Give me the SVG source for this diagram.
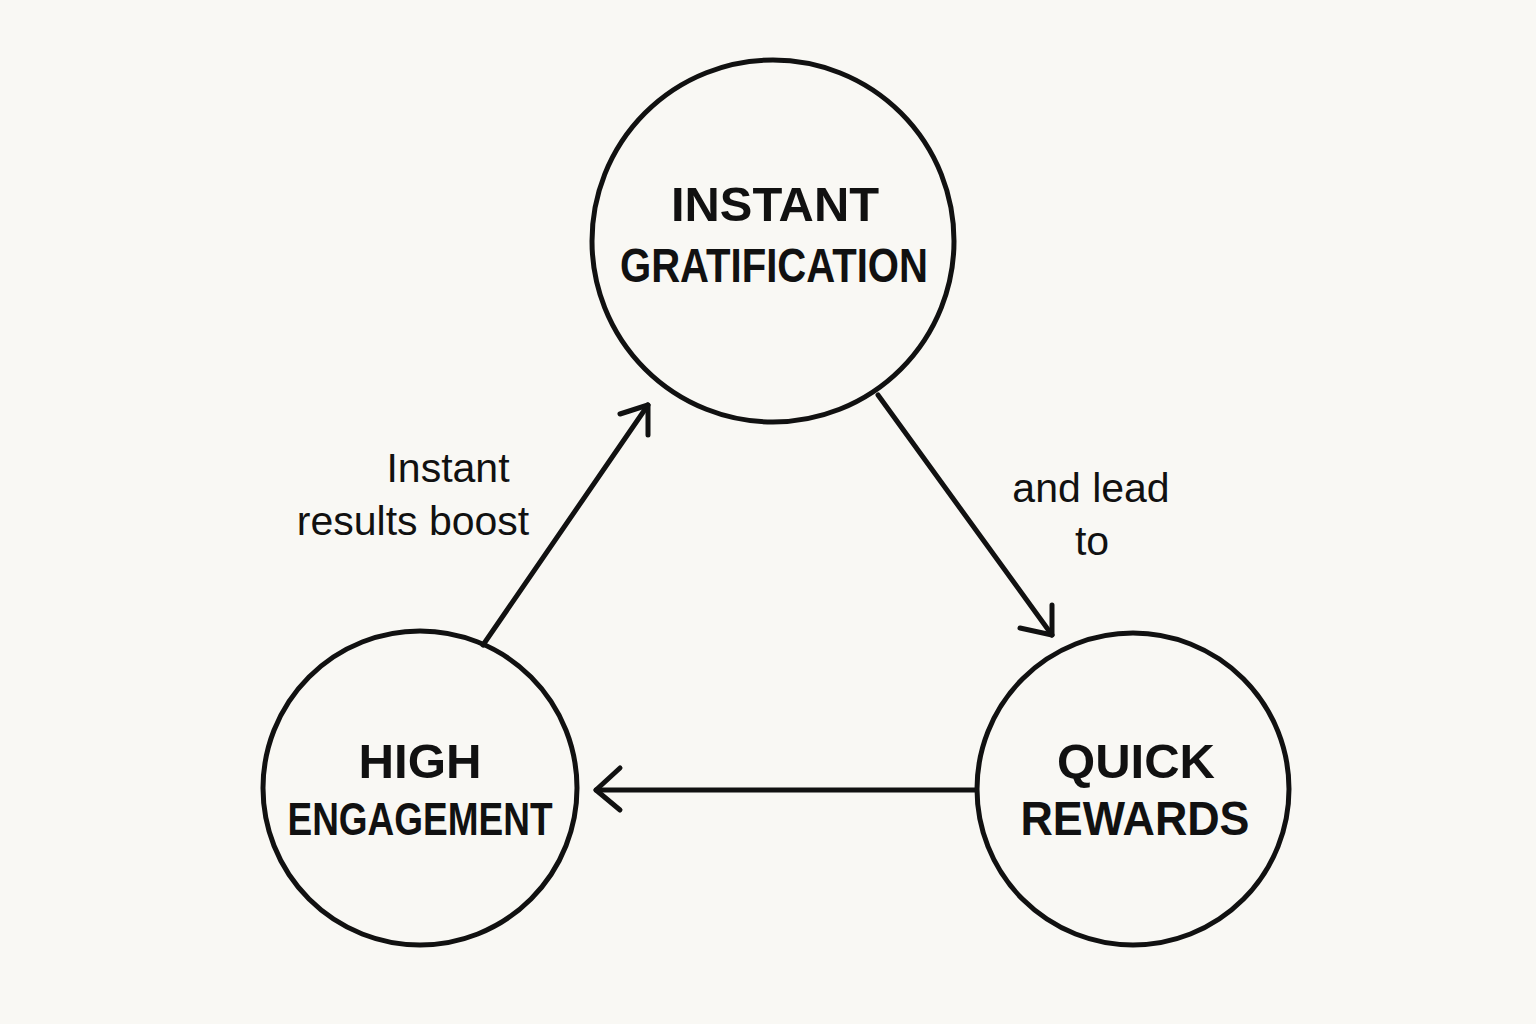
<svg xmlns="http://www.w3.org/2000/svg" width="1536" height="1024" viewBox="0 0 1536 1024">
<style>
.n{fill:none;stroke:#111;stroke-width:5}
.t{font-family:"Liberation Sans",Arial,sans-serif;font-weight:bold;fill:#111;text-anchor:middle}
.l{font-family:"Liberation Sans",Arial,sans-serif;fill:#111;font-size:41px;text-anchor:middle}
.c{stroke:#111;stroke-width:5;fill:none;stroke-linecap:round;stroke-linejoin:round}
</style>
<rect width="1536" height="1024" fill="#f9f8f4"/>
<g id="connectors">
<line class="c" x1="483" y1="645" x2="648" y2="405"/>
<polyline class="c" points="620,414 648,405 648,435"/>
<line class="c" x1="878" y1="395" x2="1052" y2="635"/>
<polyline class="c" points="1020,628 1052,635 1052,605"/>
<line class="c" x1="976" y1="790" x2="596" y2="790"/>
<polyline class="c" points="620,768 596,790 620,810"/>
<text class="l" x="448" y="482">Instant</text>
<text class="l" x="413" y="535">results boost</text>
<text class="l" x="1091" y="502">and lead</text>
<text class="l" x="1092" y="555">to</text>
</g>
<g id="instant"><circle class="n" cx="773" cy="241" r="181"/>
<text class="t" x="775" y="221" font-size="48" textLength="208" lengthAdjust="spacingAndGlyphs">INSTANT</text>
<text class="t" x="774" y="282" font-size="48" textLength="308" lengthAdjust="spacingAndGlyphs">GRATIFICATION</text></g>
<g id="high"><circle class="n" cx="420" cy="788" r="157"/>
<text class="t" x="420" y="778" font-size="48" textLength="123" lengthAdjust="spacingAndGlyphs">HIGH</text>
<text class="t" x="420" y="835" font-size="46" textLength="265" lengthAdjust="spacingAndGlyphs">ENGAGEMENT</text></g>
<g id="quick"><circle class="n" cx="1133" cy="789" r="156"/>
<text class="t" x="1136" y="778" font-size="48" textLength="158" lengthAdjust="spacingAndGlyphs">QUICK</text>
<text class="t" x="1135" y="835" font-size="48" textLength="229" lengthAdjust="spacingAndGlyphs">REWARDS</text></g>
</svg>
